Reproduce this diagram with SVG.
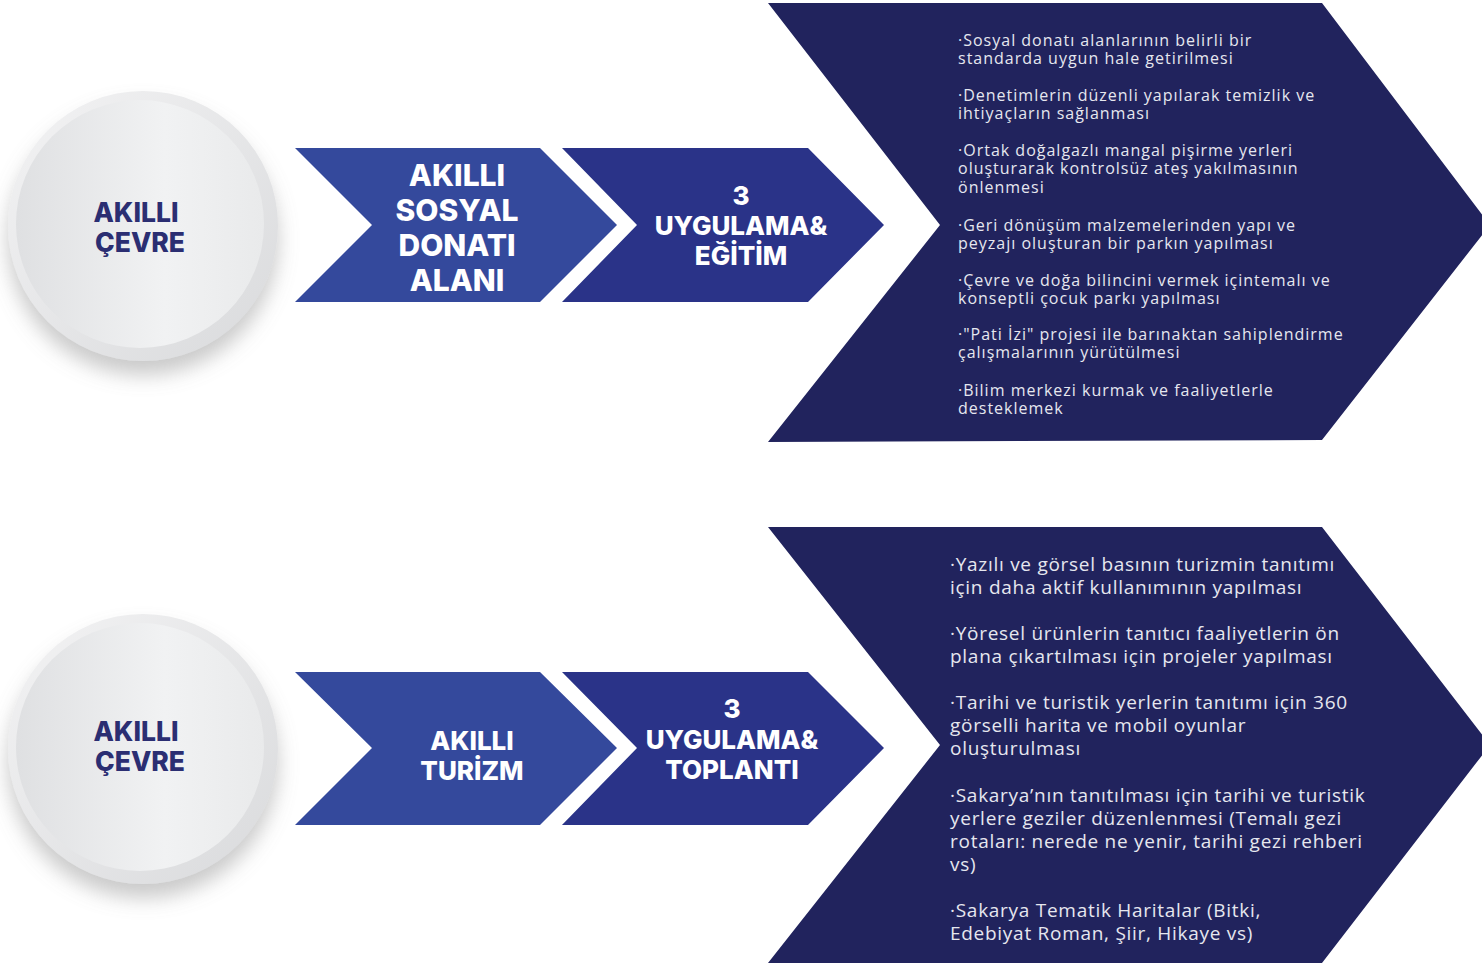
<svg xmlns="http://www.w3.org/2000/svg" width="1482" height="963" viewBox="0 0 1482 963">
<defs>
  <linearGradient id="ring" x1="0" y1="0" x2="1" y2="1">
    <stop offset="0" stop-color="#f3f3f4"/>
    <stop offset="1" stop-color="#d9dadc"/>
  </linearGradient>
  <linearGradient id="disk" x1="0" y1="0" x2="1" y2="0">
    <stop offset="0" stop-color="#dfe0e2"/>
    <stop offset="0.6" stop-color="#f1f2f3"/>
    <stop offset="1" stop-color="#e9eaeb"/>
  </linearGradient>
  <filter id="shadow" x="-30%" y="-30%" width="160%" height="170%">
    <feDropShadow dx="0" dy="14" stdDeviation="10" flood-color="#8a8a8a" flood-opacity="0.45"/>
  </filter>
  <style>
    .c1 { fill: #34499c; }
    .c2 { fill: #2a3388; }
    .big { fill: #21235d; }
    .circ { font-family: Inter, "Liberation Sans", sans-serif; font-weight: 800; font-size: 26.5px; fill: #2b2e72; text-anchor: middle; }
    .head { font-family: Inter, "Liberation Sans", sans-serif; font-weight: 800; fill: #ffffff; text-anchor: middle; }
    .body1 { font-family: "Open Sans", "Liberation Sans", sans-serif; font-size: 16px; letter-spacing: 1px; fill: #e6e7ef; }
    .body2 { font-family: "Open Sans", "Liberation Sans", sans-serif; font-size: 19px; letter-spacing: 0.72px; fill: #e6e7ef; }
  </style>
</defs>

<!-- Top row -->
<g id="circle-top">
  <circle cx="143" cy="226" r="135" fill="url(#ring)" filter="url(#shadow)"/>
  <circle cx="140" cy="224" r="124" fill="url(#disk)"/>
  <text class="circ" x="136" y="222">AKILLI</text>
  <text class="circ" x="140" y="252">ÇEVRE</text>
</g>

<g id="chevron-top-1">
  <polygon class="c1" points="295,148 540,148 617,225 540,302 295,302 372,225"/>
  <text class="head" font-size="30" x="457" y="186">AKILLI</text>
  <text class="head" font-size="30" x="457" y="221">SOSYAL</text>
  <text class="head" font-size="30" x="457" y="256">DONATI</text>
  <text class="head" font-size="30" x="457" y="291">ALANI</text>
</g>

<g id="chevron-top-2">
  <polygon class="c2" points="562,148 808,148 884,225 808,302 562,302 637,225"/>
  <text class="head" font-size="26" x="741" y="205">3</text>
  <text class="head" font-size="26" x="741" y="235">UYGULAMA&amp;</text>
  <text class="head" font-size="26" x="741" y="265">EĞİTİM</text>
</g>

<g id="chevron-top-3">
  <polygon class="big" points="768,3 1322,3 1490,225 1322,440 768,442 940,225"/>
  <text class="body1" x="958" y="46">·Sosyal donatı alanlarının belirli bir</text>
  <text class="body1" x="958" y="64">standarda uygun hale getirilmesi</text>
  <text class="body1" x="958" y="101">·Denetimlerin düzenli yapılarak temizlik ve</text>
  <text class="body1" x="958" y="119">ihtiyaçların sağlanması</text>
  <text class="body1" x="958" y="156">·Ortak doğalgazlı mangal pişirme yerleri</text>
  <text class="body1" x="958" y="174">oluşturarak kontrolsüz ateş yakılmasının</text>
  <text class="body1" x="958" y="193">önlenmesi</text>
  <text class="body1" x="958" y="231">·Geri dönüşüm malzemelerinden yapı ve</text>
  <text class="body1" x="958" y="249">peyzajı oluşturan bir parkın yapılması</text>
  <text class="body1" x="958" y="286">·Çevre ve doğa bilincini vermek içintemalı ve</text>
  <text class="body1" x="958" y="304">konseptli çocuk parkı yapılması</text>
  <text class="body1" x="958" y="340">·"Pati İzi" projesi ile barınaktan sahiplendirme</text>
  <text class="body1" x="958" y="358">çalışmalarının yürütülmesi</text>
  <text class="body1" x="958" y="396">·Bilim merkezi kurmak ve faaliyetlerle</text>
  <text class="body1" x="958" y="414">desteklemek</text>
</g>

<!-- Bottom row -->
<g id="circle-bottom">
  <circle cx="143" cy="749" r="135" fill="url(#ring)" filter="url(#shadow)"/>
  <circle cx="140" cy="747" r="124" fill="url(#disk)"/>
  <text class="circ" x="136" y="741">AKILLI</text>
  <text class="circ" x="140" y="771">ÇEVRE</text>
</g>

<g id="chevron-bottom-1">
  <polygon class="c1" points="295,672 540,672 617,748 540,825 295,825 372,748"/>
  <text class="head" font-size="26" x="472" y="750">AKILLI</text>
  <text class="head" font-size="26" x="472" y="780">TURİZM</text>
</g>

<g id="chevron-bottom-2">
  <polygon class="c2" points="562,672 808,672 884,748 808,825 562,825 637,748"/>
  <text class="head" font-size="26" x="732" y="718">3</text>
  <text class="head" font-size="26" x="732" y="749">UYGULAMA&amp;</text>
  <text class="head" font-size="26" x="732" y="779">TOPLANTI</text>
</g>

<g id="chevron-bottom-3">
  <polygon class="big" points="768,527 1322,527 1490,745 1322,963 768,963 940,745"/>
  <text class="body2" x="950" y="571">·Yazılı ve görsel basının turizmin tanıtımı</text>
  <text class="body2" x="950" y="594">için daha aktif kullanımının yapılması</text>
  <text class="body2" x="950" y="640">·Yöresel ürünlerin tanıtıcı faaliyetlerin ön</text>
  <text class="body2" x="950" y="663">plana çıkartılması için projeler yapılması</text>
  <text class="body2" x="950" y="709">·Tarihi ve turistik yerlerin tanıtımı için 360</text>
  <text class="body2" x="950" y="732">görselli harita ve mobil oyunlar</text>
  <text class="body2" x="950" y="755">oluşturulması</text>
  <text class="body2" x="950" y="802">·Sakarya’nın tanıtılması için tarihi ve turistik</text>
  <text class="body2" x="950" y="825">yerlere geziler düzenlenmesi (Temalı gezi</text>
  <text class="body2" x="950" y="848">rotaları: nerede ne yenir, tarihi gezi rehberi</text>
  <text class="body2" x="950" y="871">vs)</text>
  <text class="body2" x="950" y="917">·Sakarya Tematik Haritalar (Bitki,</text>
  <text class="body2" x="950" y="940">Edebiyat Roman, Şiir, Hikaye vs)</text>
</g>

<g id="connectors"></g>
</svg>
